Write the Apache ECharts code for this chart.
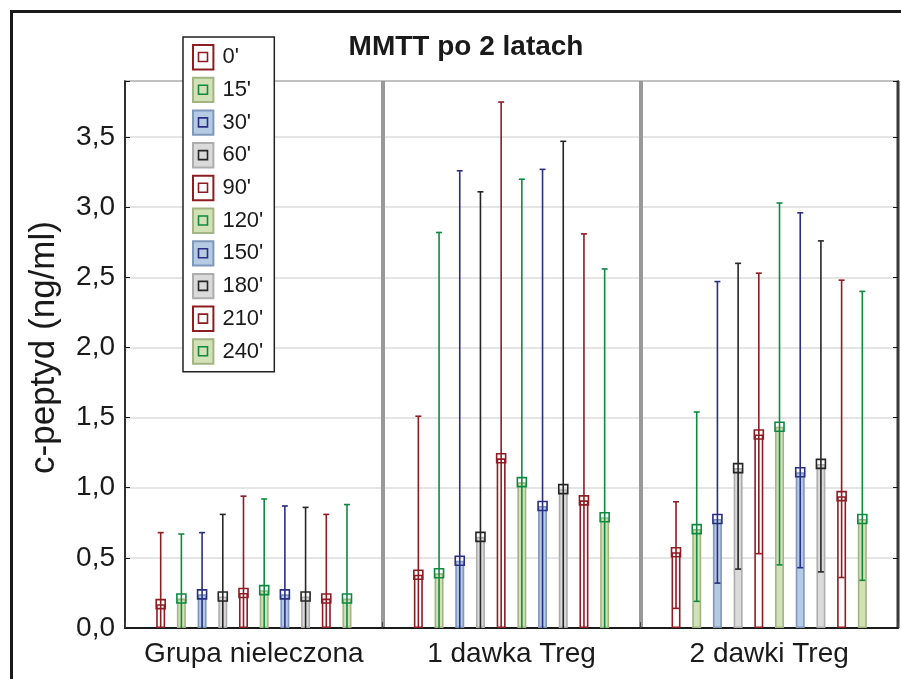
<!DOCTYPE html>
<html>
<head>
<meta charset="utf-8">
<script src="https://cdn.jsdelivr.net/npm/echarts@6/dist/echarts.min.js"></script>
<style>
  html, body { margin: 0; padding: 0; background: #fff; }
  #chart { width: 901px; height: 679px; }
</style>
</head>
<body>
<div id="chart"></div>
<script>
// Groups on the x axis
const categories = ['Grupa nieleczona', '1 dawka Treg', '2 dawki Treg'];
// Sampling times during the mixed-meal tolerance test
const timepoints = ["0'", "15'", "30'", "60'", "90'", "120'", "150'", "180'", "210'", "240'"];

// Mean c-peptide (ng/ml) per time point, one array per group
const meanUntreated = [0.17, 0.21, 0.24, 0.225, 0.25, 0.27, 0.24, 0.225, 0.21, 0.21];
const meanOneDose   = [0.38, 0.39, 0.48, 0.65, 1.21, 1.04, 0.87, 0.99, 0.91, 0.79];
const meanTwoDoses  = [0.54, 0.705, 0.777, 1.14, 1.38, 1.435, 1.11, 1.17, 0.94, 0.777];

// Upper whisker ends
const highUntreated = [0.68, 0.67, 0.68, 0.81, 0.94, 0.92, 0.87, 0.86, 0.81, 0.88];
const highOneDose   = [1.51, 2.82, 3.26, 3.11, 3.75, 3.20, 3.27, 3.47, 2.81, 2.56];
const highTwoDoses  = [0.90, 1.54, 2.47, 2.60, 2.53, 3.03, 2.96, 2.76, 2.48, 2.40];

// Lower whisker ends (0 = reaches the axis)
const lowUntreated = [0, 0, 0, 0, 0, 0, 0, 0, 0, 0];
const lowOneDose   = [0, 0, 0, 0, 0, 0, 0, 0, 0, 0];
const lowTwoDoses  = [0.14, 0.19, 0.32, 0.42, 0.53, 0.45, 0.43, 0.40, 0.36, 0.34];

// Y axis ticks
const yTicks = [0, 0.5, 1.0, 1.5, 2.0, 2.5, 3.0, 3.5];

const means = [meanUntreated, meanOneDose, meanTwoDoses];
const highs = [highUntreated, highOneDose, highTwoDoses];
const lows  = [lowUntreated, lowOneDose, lowTwoDoses];

// Colour scheme cycles red / green / blue / grey
const palettes = [
  { fill: '#ffffff', border: '#8e1c22', line: '#8e1c22' },
  { fill: '#d3e2b6', border: '#a3b483', line: '#0e8a41' },
  { fill: '#b5cbe3', border: '#7f97b9', line: '#2a2e84' },
  { fill: '#dadada', border: '#adadad', line: '#262626' }
];

const FONT = 'Liberation Sans, Arial, Helvetica, sans-serif';
const BAR_W = 9;
const BAR_GAP = 1.3;            // fraction of bar width
const SLOT = BAR_W * (1 + BAR_GAP);
const BORDER_W = 1.6;

const series = [];
timepoints.forEach((tp, k) => {
  const pal = palettes[k % 4];
  series.push({
    name: tp,
    type: 'bar',
    barWidth: BAR_W,
    barGap: (BAR_GAP * 100) + '%',
    itemStyle: { color: pal.fill, borderColor: pal.border, borderWidth: BORDER_W },
    emphasis: { disabled: true },
    data: categories.map((c, g) => means[g][k]),
    z: 2
  });
});
timepoints.forEach((tp, k) => {
  const pal = palettes[k % 4];
  const off = (k - (timepoints.length - 1) / 2) * SLOT;
  series.push({
    name: tp,
    type: 'custom',
    z: 3,
    silent: true,
    encode: { x: 0, y: [1, 2, 3] },
    data: categories.map((c, g) => [g, means[g][k], lows[g][k], highs[g][k]]),
    renderItem: function (params, api) {
      const g = api.value(0);
      const pm = api.coord([g, api.value(1)]);
      const lo = api.value(2);
      const yLo = api.coord([g, lo])[1];
      const yHi = api.coord([g, api.value(3)])[1];
      const x = pm[0] + off;
      const st = { stroke: pal.line, lineWidth: 1.6, fill: null };
      const kids = [
        { type: 'line', shape: { x1: x, y1: yLo, x2: x, y2: yHi }, style: st },
        { type: 'line', shape: { x1: x - 3, y1: yHi, x2: x + 3, y2: yHi }, style: st },
        { type: 'rect', shape: { x: x - 4.5, y: pm[1] - 4.5, width: 9, height: 9 }, style: st }
      ];
      if (lo > 0) {
        kids.push({ type: 'line', shape: { x1: x - 3, y1: yLo, x2: x + 3, y2: yLo }, style: st });
      }
      return { type: 'group', children: kids };
    }
  });
});

// Legend geometry (visual swatch size includes its stroke)
const LEG = { left: 183, top: 37, itemW: 22, itemH: 26, gap: 6.3, padL: 9, padT: 7, padR: 11 };
const legendMarks = timepoints.map((tp, k) => {
  const cx = LEG.left + LEG.padL + LEG.itemW / 2;
  const cy = LEG.top + LEG.padT + LEG.itemH / 2 + k * (LEG.itemH + 0.4 + LEG.gap);
  return {
    type: 'rect', z: 100,
    shape: { x: cx - 4.5, y: cy - 4.5, width: 9, height: 9 },
    style: { fill: null, stroke: palettes[k % 4].line, lineWidth: 1.6 }
  };
});

const option = {
  animation: false,
  backgroundColor: '#ffffff',
  title: {
    text: 'MMTT po 2 latach',
    left: 461, top: 28, textAlign: 'center',
    textStyle: { fontFamily: FONT, fontSize: 28, fontWeight: 'bold', color: '#1a1a1a' }
  },
  legend: {
    orient: 'vertical',
    left: LEG.left, top: LEG.top,
    data: timepoints,
    icon: 'rect',
    itemWidth: LEG.itemW - BORDER_W, itemHeight: LEG.itemH - BORDER_W, itemGap: LEG.gap,
    padding: [LEG.padT, LEG.padR, LEG.padT, LEG.padL],
    backgroundColor: '#ffffff',
    borderColor: '#222', borderWidth: 1.5,
    selectedMode: false,
    textStyle: { fontFamily: FONT, fontSize: 22, lineHeight: 24, color: '#1a1a1a', padding: [0, 0, 0, 4] },
    z: 50
  },
  grid: {
    left: 125, right: 3, top: 81, bottom: 51,
    show: true, borderColor: '#444', borderWidth: 1.5
  },
  xAxis: {
    type: 'category',
    data: categories,
    axisLine: { lineStyle: { color: '#1a1a1a', width: 2 } },
    axisTick: { show: true, inside: true, length: 6, lineStyle: { color: '#444' } },
    axisLabel: { interval: 0, fontFamily: FONT, fontSize: 28, color: '#1a1a1a', margin: 12 },
    splitLine: {
      show: true,
      interval: function (idx) { return idx > 0; },
      lineStyle: { color: '#999999', width: 4 }
    }
  },
  yAxis: [{
    type: 'value',
    min: yTicks[0], max: 3.9, interval: 0.5,
    name: 'c-peptyd (ng/ml)',
    nameLocation: 'middle', nameGap: 63,
    nameTextStyle: { fontFamily: FONT, fontSize: 35, color: '#1a1a1a', padding: [0, 0, 0, 14] },
    axisLine: { show: true, lineStyle: { color: '#1a1a1a', width: 1.5 } },
    axisTick: { show: true, inside: true, length: 5, lineStyle: { color: '#1a1a1a' } },
    axisLabel: {
      fontFamily: FONT, fontSize: 28, color: '#1a1a1a', margin: 10,
      formatter: function (v) {
        return yTicks.some(t => Math.abs(t - v) < 1e-6) ? v.toFixed(1).replace('.', ',') : '';
      }
    },
    splitLine: { show: true, lineStyle: { color: '#dddddd', width: 1.5 } }
  }, {
    type: 'value', position: 'right',
    min: yTicks[0], max: 3.9, interval: 0.5,
    axisLine: { show: true, lineStyle: { color: '#1a1a1a', width: 1.5 } },
    axisTick: { show: true, inside: true, length: 5, lineStyle: { color: '#1a1a1a' } },
    axisLabel: { show: false },
    splitLine: { show: false }
  }],
  graphic: [
    {
      type: 'rect', z: 0,
      shape: { x: 11.5, y: 11.5, width: 1000, height: 1000 },
      style: { fill: null, stroke: '#1a1a1a', lineWidth: 3 }
    }
  ].concat(legendMarks),
  series: series
};

const chart = echarts.init(document.getElementById('chart'), null, { renderer: 'canvas' });
chart.setOption(option);
</script>
</body>
</html>
